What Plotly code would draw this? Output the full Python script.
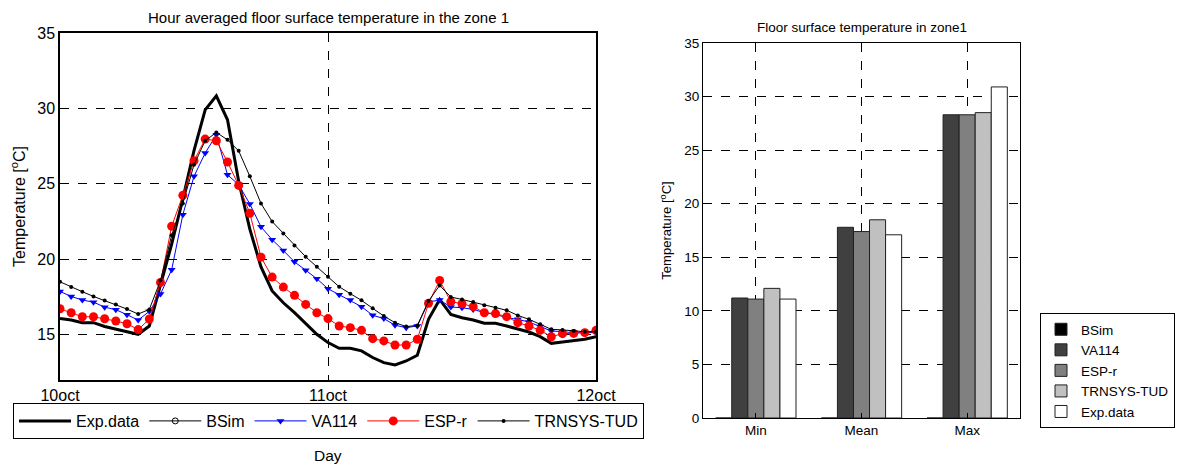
import plotly.graph_objects as go

# hourly values, 10 Oct 00h -> 12 Oct 00h
hours = list(range(49))
exp_data = [16.08, 15.97, 15.80, 15.80, 15.55, 15.40, 15.20, 15.03, 15.58, 18.3,
            21.0, 24.0, 27.2, 29.9, 30.83, 29.25, 25.17, 22.0, 19.5, 17.9,
            17.12, 16.46, 15.76, 15.03, 14.48, 14.10, 14.10, 13.93, 13.49, 13.15,
            13.0, 13.26, 13.64, 16.02, 17.34, 16.35, 16.13, 15.98, 15.76, 15.76,
            15.58, 15.36, 15.18, 14.87, 14.43, 14.52, 14.61, 14.70, 14.87]
bsim = [None] * 49
va114 = [17.87, 17.54, 17.30, 17.16, 16.83, 16.66, 16.33, 15.97, 16.55, 17.7,
         19.3, 22.96, 25.5, 27.04, 28.25, 25.6, 24.95, 23.67, 22.15, 21.3,
         20.58, 19.83, 19.28, 18.71, 18.05, 17.65, 17.3, 16.86, 16.29, 16.07,
         15.63, 15.47, 15.58, 17.17, 17.3, 16.84, 16.79, 16.68, 16.46, 16.35,
         16.13, 16.02, 15.84, 15.54, 15.25, 15.2, 15.14, 15.14, 15.14]
esp_r = [16.72, 16.46, 16.19, 16.19, 16.06, 15.91, 15.73, 15.34, 16.04, 18.47,
         22.19, 24.24, 26.53, 27.97, 27.86, 26.45, 24.9, 23.05, 20.14, 18.82,
         18.16, 17.61, 17.01, 16.46, 16.07, 15.58, 15.47, 15.29, 14.74, 14.59,
         14.32, 14.32, 14.7, 17.08, 18.6, 17.19, 17.06, 16.86, 16.46, 16.4,
         16.2, 15.8, 15.58, 15.29, 14.87, 15.07, 15.09, 15.14, 15.29]
trnsys = [18.51, 18.16, 17.85, 17.54, 17.27, 17.01, 16.70, 16.37, 16.68, 18.6,
          21.6, 23.7, 26.27, 27.86, 28.41, 27.92, 27.19, 25.5, 23.7, 22.5,
          21.71, 20.91, 20.17, 19.5, 18.84, 18.18, 17.72, 17.28, 16.75, 16.24,
          15.8, 15.54, 15.62, 17.23, 18.27, 17.5, 17.34, 17.17, 16.95, 16.79,
          16.62, 16.28, 16.02, 15.69, 15.36, 15.32, 15.25, 15.2, 15.2]
day_ticks = [0, 24, 48]
day_labels = ['10oct', '11oct', '12oct']

# summary statistics
stats = ['Min', 'Mean', 'Max']
bar_bsim = [0, 0, 0]
bar_va114 = [11.2, 17.8, 28.3]
bar_esp_r = [11.1, 17.4, 28.3]
bar_trnsys = [12.1, 18.5, 28.5]
bar_exp = [11.1, 17.1, 30.9]

font = 'Liberation Sans, Arial, sans-serif'
# page body has an 8px margin, so the figure is drawn 8px in
OFF = 8
W, H = 1192 - OFF, 468 - OFF


def px_x(p):
    return (p - OFF) / W


def px_y(p):
    return 1 - (p - OFF) / H


fig = go.Figure()

fig.add_trace(go.Scatter(x=hours, y=exp_data, name='Exp.data', mode='lines',
                         line=dict(color='black', width=3)))
fig.add_trace(go.Scatter(x=hours, y=bsim, name='BSim', mode='lines+markers',
                         line=dict(color='black', width=1),
                         marker=dict(symbol='circle-open', size=6, color='black')))
fig.add_trace(go.Scatter(x=hours, y=va114, name='VA114', mode='lines+markers',
                         line=dict(color='blue', width=1),
                         marker=dict(symbol='triangle-down', size=7, color='blue')))
fig.add_trace(go.Scatter(x=hours, y=esp_r, name='ESP-r', mode='lines+markers',
                         line=dict(color='red', width=1),
                         marker=dict(symbol='circle', size=9, color='red')))
fig.add_trace(go.Scatter(x=hours, y=trnsys, name='TRNSYS-TUD', mode='lines+markers',
                         line=dict(color='black', width=1),
                         marker=dict(symbol='circle', size=4, color='black')))

bar_colors = ['#000000', '#404040', '#808080', '#c0c0c0', '#ffffff']
for name, vals, col in zip(['BSim', 'VA114', 'ESP-r', 'TRNSYS-TUD', 'Exp.data'],
                           [bar_bsim, bar_va114, bar_esp_r, bar_trnsys, bar_exp],
                           bar_colors):
    fig.add_trace(go.Bar(x=stats, y=vals, name=name, xaxis='x2', yaxis='y2',
                         legend='legend2', marker=dict(color=col, line=dict(color='#202020', width=1))))

axis_common = dict(showline=True, mirror=True, linecolor='black', ticks='inside',
                   ticklen=5, tickcolor='black', showgrid=True, gridcolor='black',
                   griddash='dash', gridwidth=1, zeroline=False, automargin=False)

fig.update_layout(
    width=W, height=H,
    margin=dict(l=0, r=0, t=0, b=0),
    paper_bgcolor='white', plot_bgcolor='white',
    font=dict(family=font, color='black'),
    barmode='group', bargap=0.24, bargroupgap=0,
    xaxis=dict(domain=[px_x(60), px_x(596)], range=[0, 48], tickvals=day_ticks,
               ticktext=day_labels, linewidth=1.5, tickfont=dict(size=16), **axis_common),
    yaxis=dict(domain=[px_y(380), px_y(33)], range=[12, 35],
               tickvals=[15, 20, 25, 30, 35], linewidth=1.5, tickfont=dict(size=16),
               title=dict(text='Temperature [<sup>o</sup>C]', font=dict(size=16), standoff=10),
               **axis_common),
    xaxis2=dict(domain=[px_x(703), px_x(1020)], range=[-0.5, 2.5], anchor='y2',
                linewidth=1, tickfont=dict(size=13.5), **axis_common),
    yaxis2=dict(domain=[px_y(418), px_y(43)], range=[0, 35], anchor='x2',
                tickvals=[0, 5, 10, 15, 20, 25, 30, 35], linewidth=1,
                tickfont=dict(size=13.5),
                title=dict(text='Temperature [<sup>o</sup>C]', font=dict(size=13), standoff=9),
                **axis_common),
    legend=dict(orientation='h', x=px_x(13), y=px_y(403), xanchor='left', yanchor='top',
                bordercolor='black', borderwidth=1, bgcolor='white',
                font=dict(size=16), itemwidth=52),
    legend2=dict(x=px_x(1040), y=px_y(313), xanchor='left', yanchor='top',
                 bordercolor='black', borderwidth=1, bgcolor='white',
                 font=dict(size=13.5), tracegroupgap=0),
    annotations=[
        dict(text='Hour averaged floor surface temperature in the zone 1', x=px_x(328),
             y=px_y(17), xref='paper', yref='paper', showarrow=False,
             xanchor='center', yanchor='middle', font=dict(size=15)),
        dict(text='Day', x=px_x(328), y=px_y(455), xref='paper', yref='paper',
             showarrow=False, xanchor='center', yanchor='middle', font=dict(size=15.5)),
        dict(text='Floor surface temperature in zone1', x=px_x(862), y=px_y(28),
             xref='paper', yref='paper', showarrow=False, xanchor='center',
             yanchor='middle', font=dict(size=13.5)),
    ],
)

fig.write_html('out.html')
